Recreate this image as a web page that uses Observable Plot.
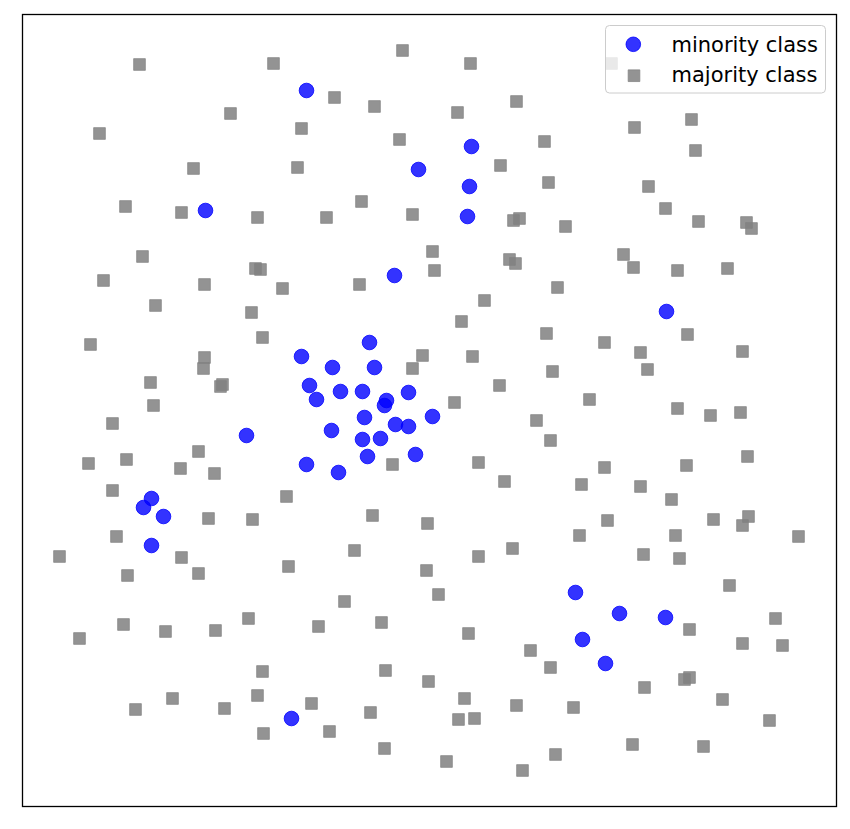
<!DOCTYPE html>
<html>
<head>
<meta charset="utf-8">
<script src="https://cdn.jsdelivr.net/npm/d3@7"></script>
<script src="https://cdn.jsdelivr.net/npm/@observablehq/plot@0.6"></script>
<style>
  html, body { margin: 0; padding: 0; background: #ffffff; }
  #chart { width: 850px; height: 829px; }
</style>
</head>
<body>
<div id="chart"></div>
<script>
// Values (data units of the frame: x 22..836, y 14..806 downward)
const minorityX = [306,471,418,469,205,467,394,666,369,301,332,374,309,316,340,362,386,384,408,364,432,246,331,395,408,362,380,367,415,306,338,151,143,163,151,575,619,665,582,605,291];
const minorityY = [90,146,169,186,210,216,275,311,342,356,367,367,385,399,391,391,400,405,392,417,416,435,430,424,426,439,438,456,454,464,472,498,507,516,545,592,613,617,639,663,718];

const majorityX = [
  139,273,402,470,611,
  334,374,457,516,230,99,301,399,544,634,691,695,
  193,297,500,548,648,
  125,181,257,326,361,412,513,519,565,665,698,746,751,
  142,103,204,255,260,282,359,432,434,509,515,557,623,633,677,727,
  155,251,262,484,461,546,604,687,
  90,204,203,150,220,222,153,412,422,472,499,552,640,647,742,
  112,198,126,180,214,88,454,589,536,550,677,710,740,
  392,478,504,604,581,640,686,747,671,
  112,286,372,427,208,252,607,713,742,748,798,
  116,59,181,198,127,354,288,426,478,512,579,643,675,679,729,
  344,438,123,79,165,215,248,318,381,468,530,550,689,742,775,782,
  262,385,428,644,684,689,
  257,172,135,224,311,370,464,458,474,516,573,722,
  263,329,384,446,522,555,632,703,769
];
const majorityY = [
  64,63,50,63,63,
  97,106,112,101,113,133,128,139,141,127,119,150,
  168,167,165,182,186,
  206,212,217,217,201,214,220,218,226,208,221,222,228,
  256,280,284,268,269,288,284,251,270,259,263,287,254,267,270,268,
  305,312,337,300,321,333,342,334,
  344,357,368,382,386,384,405,368,355,356,385,371,352,369,351,
  423,451,459,468,473,463,402,399,420,440,408,415,412,
  464,462,481,467,484,486,465,456,499,
  490,496,515,523,518,519,520,519,525,516,536,
  536,556,557,573,575,550,566,570,556,548,535,554,535,558,585,
  601,594,624,638,631,630,618,626,622,633,650,667,629,643,618,645,
  671,670,681,687,679,677,
  695,698,709,708,703,712,698,719,718,705,707,699,
  733,731,748,761,770,754,744,746,720
];

const legendLabels = ["minority class", "majority class"];

const minority = minorityX.map((x, i) => ({x, y: minorityY[i]}));
const majority = majorityX.map((x, i) => ({x, y: majorityY[i]}));

const plot = Plot.plot({
  width: 850,
  height: 829,
  marginLeft: 22,
  marginRight: 14,
  marginTop: 14,
  marginBottom: 23,
  style: {background: "#ffffff", fontFamily: "DejaVu Sans"},
  x: {domain: [22, 836], axis: null},
  y: {domain: [806, 14], axis: null},
  marks: [
    Plot.dot(minority, {x: "x", y: "y", r: 7.3, fill: "blue", fillOpacity: 0.8, stroke: "blue", strokeOpacity: 0.8, strokeWidth: 1}),
    Plot.dot(majority, {x: "x", y: "y", symbol: "square", r: 6.6, fill: "gray", fillOpacity: 0.85, stroke: "gray", strokeOpacity: 0.7, strokeWidth: 1}),
    Plot.frame({stroke: "black", strokeWidth: 1.3})
  ]
});

// Legend (matplotlib-style, upper right)
const svg = d3.select(plot);
const lg = svg.append("g").attr("class", "legend");
lg.append("rect")
  .attr("x", 605.5).attr("y", 25.5).attr("width", 220).attr("height", 67.5)
  .attr("rx", 4).attr("ry", 4)
  .attr("fill", "white").attr("fill-opacity", 0.8)
  .attr("stroke", "#cccccc").attr("stroke-width", 1);
lg.append("circle")
  .attr("cx", 633.3).attr("cy", 44.3).attr("r", 7.3)
  .attr("fill", "blue").attr("fill-opacity", 0.8)
  .attr("stroke", "blue").attr("stroke-opacity", 0.8);
lg.append("path")
  .attr("transform", "translate(634,75.7)")
  .attr("d", d3.symbol(d3.symbolSquare, Math.PI * 6.6 * 6.6)())
  .attr("fill", "gray").attr("fill-opacity", 0.85)
  .attr("stroke", "gray").attr("stroke-opacity", 0.7);
lg.selectAll("text.lbl").data(legendLabels).join("text")
  .attr("class", "lbl")
  .attr("x", 671.5)
  .attr("y", (d, i) => 51.5 + i * 30.5)
  .attr("text-anchor", "start")
  .attr("font-family", "DejaVu Sans")
  .attr("font-size", 21)
  .attr("fill", "#000")
  .text(d => d);

document.getElementById("chart").appendChild(plot);
</script>
</body>
</html>
